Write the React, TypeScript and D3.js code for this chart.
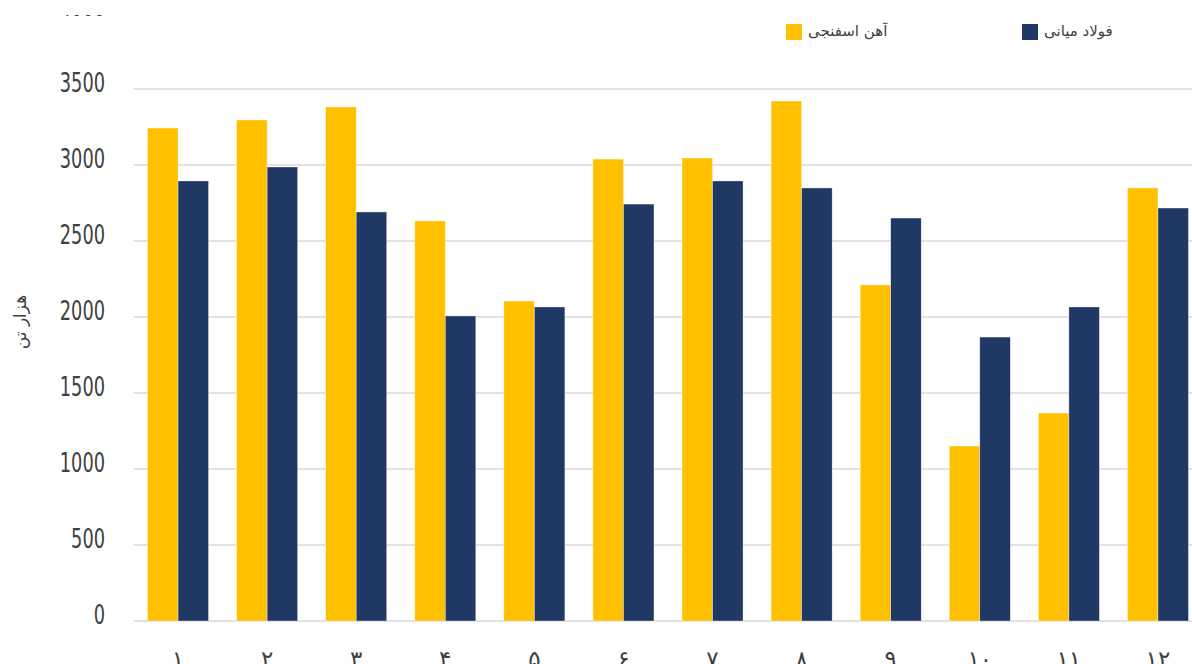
import { useMemo } from 'react';
import * as d3 from 'd3';

// --- Data ---
const months = ['۱', '۲', '۳', '۴', '۵', '۶', '۷', '۸', '۹', '۱۰', '۱۱', '۱۲'];
const seriesNames = ['آهن اسفنجی', 'فولاد میانی'];
const spongeIron = [3243, 3296, 3382, 2632, 2105, 3039, 3046, 3421, 2211, 1151, 1368, 2849];
const midSteel = [2895, 2987, 2691, 2007, 2066, 2743, 2895, 2849, 2651, 1868, 2066, 2717];
const yTicks = [0, 500, 1000, 1500, 2000, 2500, 3000, 3500, 4000];
const yTitle = 'هزار تن';

const colors = ['#FFC000', '#203864'];
const W = 1192;
const H = 664;

const App = () => {
    const { x, x1, y } = useMemo(() => {
        const x = d3.scaleBand().domain(months).range([133.5, 1202.5]).paddingInner(0.315).paddingOuter(0.1575);
        const x1 = d3.scaleBand().domain(seriesNames).range([0, x.bandwidth()]);
        const y = d3.scaleLinear().domain([0, 3500]).range([621, 89]);
        return { x, x1, y };
    }, []);

    const series = [spongeIron, midSteel];

    return (
        <svg width={W} height={H} style={{ position: 'absolute', left: 0, top: 0, background: '#fff' }}>
            <defs>
                <clipPath id="crop">
                    <rect x={0} y={15} width={W} height={H} />
                </clipPath>
            </defs>
            <g clipPath="url(#crop)">
                {/* gridlines */}
                {yTicks.map(t => (
                    <line key={t} x1={133.5} x2={W} y1={y(t)} y2={y(t)}
                          stroke="#d9d9d9" strokeWidth={1.6} />
                ))}
                {/* y labels (narrow face) */}
                {yTicks.map(t => (
                    <text key={'l' + t} x={105} y={y(t) + 2.5} textAnchor="end"
                          textLength={String(t).length * 11.3} lengthAdjust="spacingAndGlyphs"
                          fontFamily="'DejaVu Sans Condensed', sans-serif"
                          fontSize={27} fill="#404040">{t}</text>
                ))}
            </g>

            {/* bars */}
            {months.map((m, i) => (
                <g key={m} transform={`translate(${x(m)},0)`}>
                    {seriesNames.map((s, j) => (
                        <rect key={s} x={x1(s)} y={y(series[j][i])} width={x1.bandwidth()}
                              height={y(0) - y(series[j][i])} fill={colors[j]}
                              stroke="#fff" strokeOpacity={0.6} strokeWidth={0.6} />
                    ))}
                </g>
            ))}

            {/* x labels */}
            {months.map(m => (
                <text key={'x' + m} x={(x(m) ?? 0) + x.bandwidth() / 2} y={667} textAnchor="middle"
                      fontFamily="'DejaVu Sans', sans-serif" fontSize={23} fill="#404040">{m}</text>
            ))}

            {/* y title */}
            <text transform="translate(26,322) rotate(-90)" textAnchor="middle"
                  fontFamily="'DejaVu Sans', sans-serif" fontSize={17} fill="#404040">{yTitle}</text>

            {/* legend */}
            {seriesNames.map((s, j) => {
                const lx = j === 0 ? 786 : 1022;
                return (
                    <g key={s} transform={`translate(${lx},24)`}>
                        <rect width={16} height={16} fill={colors[j]} />
                        <text x={22} y={12} fontFamily="'DejaVu Sans', sans-serif" fontSize={15} fill="#404040">{s}</text>
                    </g>
                );
            })}
        </svg>
    );
};

export default App;
